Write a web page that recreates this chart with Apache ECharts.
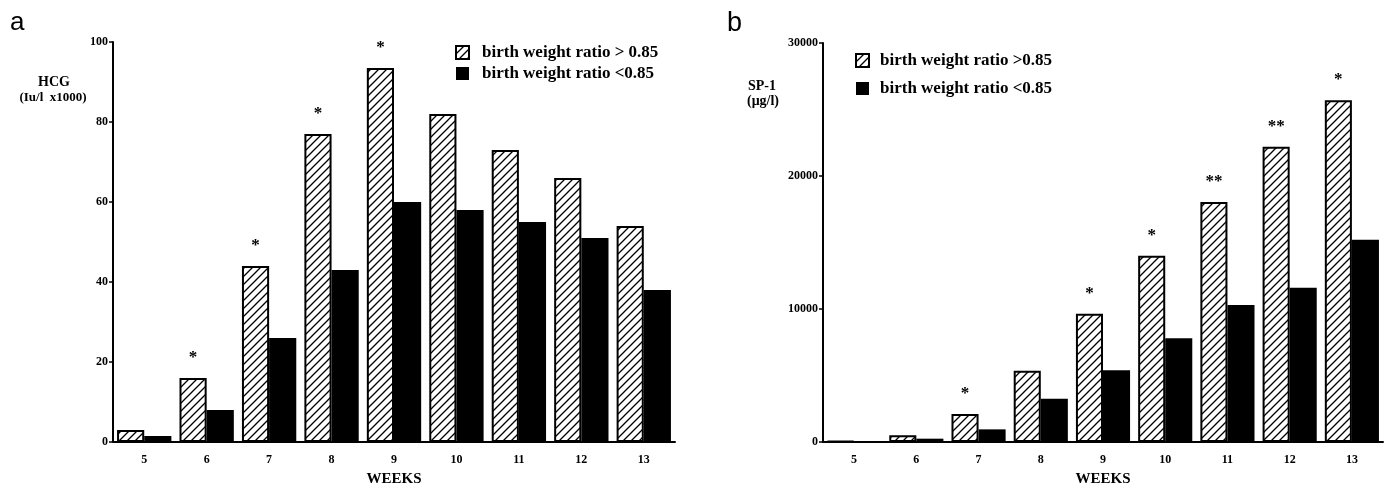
<!DOCTYPE html>
<html><head><meta charset="utf-8">
<script src="https://cdn.jsdelivr.net/npm/echarts@6/dist/echarts.min.js"></script>
<style>html,body{margin:0;padding:0;background:#fff}#c{width:1395px;height:488px}</style>
</head><body><div id="c"></div>
<script>
const weeks = ['5','6','7','8','9','10','11','12','13'];
const hcgHigh = [3,16,44,77,93.5,82,73,66,54];
const hcgLow = [1.5,8,26,43,60,58,55,51,38];
const hcgSig = ['','*','*','*','*','','','',''];
const sp1High = [60,500,2100,5350,9650,14000,18050,22200,25700];
const sp1Low = [40,250,950,3250,5400,7800,10300,11600,15200];
const sp1Sig = ['','','*','','*','*','**','**','*'];

const serif = 'Liberation Serif';
const tile = document.createElement('canvas');
tile.width = 8; tile.height = 8;
const g = tile.getContext('2d');
g.fillStyle = '#fff'; g.fillRect(0,0,8,8);
g.strokeStyle = '#000'; g.lineWidth = 1.3;
g.beginPath();
g.moveTo(0,8); g.lineTo(8,0);
g.moveTo(-2,2); g.lineTo(2,-2);
g.moveTo(6,10); g.lineTo(10,6);
g.stroke();
const hatch = {image: tile, repeat: 'repeat'};

const chart = echarts.init(document.getElementById('c'), null, {renderer:'canvas'});
const tickLab = {fontFamily: serif, fontWeight: 'bold', fontSize: 12, color: '#000'};
function xAx(gi){
  return {type:'category', gridIndex: gi, data: weeks,
    axisLine:{lineStyle:{color:'#000', width:2}}, axisTick:{show:false},
    axisLabel: Object.assign({margin: 12}, tickLab),
    name:'WEEKS', nameLocation:'middle', nameGap: 30,
    nameTextStyle:{fontFamily: serif, fontWeight:'bold', fontSize: 15, color:'#000'}};
}
function yAx(gi, max, interval){
  return {type:'value', gridIndex: gi, min:0, max:max, interval:interval,
    splitLine:{show:false},
    axisLine:{show:true, lineStyle:{color:'#000', width:2}},
    axisTick:{show:true, length:4, lineStyle:{color:'#000', width:1.5}},
    axisLabel: Object.assign({margin: 5, formatter: v => String(v)}, tickLab)};
}
function sigLabel(arr){
  return {show:true, position:'top', distance: 12,
    formatter: p => arr[p.dataIndex],
    fontFamily: serif, fontWeight:'bold', fontSize: 17, color:'#000'};
}
const legText = {fontFamily: serif, fontWeight:'bold', fontSize: 17, color:'#000', padding:[0,0,0,8]};

chart.setOption({
  animation:false,
  grid:[
    {left:113, right:720, top:42, bottom:46, outerBoundsMode:'none', containLabel:false},
    {left:823, right:12, top:43, bottom:46, outerBoundsMode:'none', containLabel:false}
  ],
  xAxis:[xAx(0), xAx(1)],
  yAxis:[yAx(0,100,20), yAx(1,30000,10000)],
  legend:[
    {data:['birth weight ratio > 0.85','birth weight ratio <0.85'], orient:'vertical',
     left:455, top:44, padding:0, itemGap:4, itemWidth:13, itemHeight:13, icon:'rect',
     textStyle: legText, selectedMode:false},
    {data:['birth weight ratio >0.85','birth weight ratio <0.85 '], orient:'vertical',
     left:855, top:52, padding:0, itemGap:11, itemWidth:13, itemHeight:13, icon:'rect',
     textStyle: Object.assign({}, legText, {padding:[0,0,0,6]}), selectedMode:false}
  ],
  series:[
    {name:'birth weight ratio > 0.85', type:'bar', xAxisIndex:0, yAxisIndex:0, data:hcgHigh,
     barGap:'0%', barCategoryGap:'13%',
     itemStyle:{color:hatch, borderColor:'#000', borderWidth:2}, label: sigLabel(hcgSig)},
    {name:'birth weight ratio <0.85', type:'bar', xAxisIndex:0, yAxisIndex:0, data:hcgLow,
     barGap:'0%', barCategoryGap:'13%', itemStyle:{color:'#000'}},
    {name:'birth weight ratio >0.85', type:'bar', xAxisIndex:1, yAxisIndex:1, data:sp1High,
     barGap:'0%', barCategoryGap:'13%',
     itemStyle:{color:hatch, borderColor:'#000', borderWidth:2}, label: sigLabel(sp1Sig)},
    {name:'birth weight ratio <0.85 ', type:'bar', xAxisIndex:1, yAxisIndex:1, data:sp1Low,
     barGap:'0%', barCategoryGap:'13%', itemStyle:{color:'#000'}}
  ],
  graphic:[
    {type:'text', left:10, top:10, style:{text:'a', font:'26px "Liberation Sans"', fill:'#000'}},
    {type:'text', left:727, top:10, style:{text:'b', font:'27px "Liberation Sans"', fill:'#000'}},
    {type:'text', x:54, y:75, style:{text:'HCG', font:'bold 14px "Liberation Serif"', fill:'#000', align:'center'}},
    {type:'text', x:53, y:91, style:{text:'(Iu/l  x1000)', font:'bold 13px "Liberation Serif"', fill:'#000', align:'center'}},
    {type:'text', x:762, y:79, style:{text:'SP-1', font:'bold 14px "Liberation Serif"', fill:'#000', align:'center'}},
    {type:'text', x:763, y:94, style:{text:'(\u03bcg/l)', font:'bold 14px "Liberation Serif"', fill:'#000', align:'center'}}
  ]
});
</script></body></html>
